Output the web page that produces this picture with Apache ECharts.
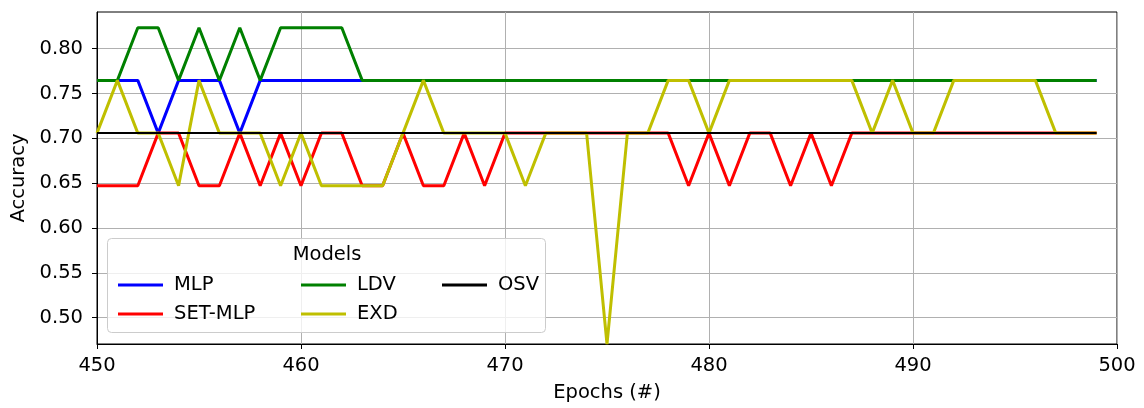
<!DOCTYPE html>
<html>
<head>
<meta charset="utf-8">
<script src="https://cdn.jsdelivr.net/npm/echarts@6/dist/echarts.min.js"></script>
<style>
  html, body { margin: 0; padding: 0; background: #fff; }
  #accChart { width: 1144px; height: 408px; }
</style>
</head>
<body>
<div id="accChart"></div>
<script>
// epochs 450..499
const epochs = [450, 451, 452, 453, 454, 455, 456, 457, 458, 459,
  460, 461, 462, 463, 464, 465, 466, 467, 468, 469,
  470, 471, 472, 473, 474, 475, 476, 477, 478, 479,
  480, 481, 482, 483, 484, 485, 486, 487, 488, 489,
  490, 491, 492, 493, 494, 495, 496, 497, 498, 499]

const mlp = [0.7647, 0.7647, 0.7647, 0.7059, 0.7647, 0.7647, 0.7647, 0.7059, 0.7647, 0.7647,
  0.7647, 0.7647, 0.7647, 0.7647, 0.7647, 0.7647, 0.7647, 0.7647, 0.7647, 0.7647,
  0.7647, 0.7647, 0.7647, 0.7647, 0.7647, 0.7647, 0.7647, 0.7647, 0.7647, 0.7647,
  0.7647, 0.7647, 0.7647, 0.7647, 0.7647, 0.7647, 0.7647, 0.7647, 0.7647, 0.7647,
  0.7647, 0.7647, 0.7647, 0.7647, 0.7647, 0.7647, 0.7647, 0.7647, 0.7647, 0.7647]

const setMlp = [0.6471, 0.6471, 0.6471, 0.7059, 0.7059, 0.6471, 0.6471, 0.7059, 0.6471, 0.7059,
  0.6471, 0.7059, 0.7059, 0.6471, 0.6471, 0.7059, 0.6471, 0.6471, 0.7059, 0.6471,
  0.7059, 0.7059, 0.7059, 0.7059, 0.7059, 0.7059, 0.7059, 0.7059, 0.7059, 0.6471,
  0.7059, 0.6471, 0.7059, 0.7059, 0.6471, 0.7059, 0.6471, 0.7059, 0.7059, 0.7059,
  0.7059, 0.7059, 0.7059, 0.7059, 0.7059, 0.7059, 0.7059, 0.7059, 0.7059, 0.7059]

const ldv = [0.7647, 0.7647, 0.8235, 0.8235, 0.7647, 0.8235, 0.7647, 0.8235, 0.7647, 0.8235,
  0.8235, 0.8235, 0.8235, 0.7647, 0.7647, 0.7647, 0.7647, 0.7647, 0.7647, 0.7647,
  0.7647, 0.7647, 0.7647, 0.7647, 0.7647, 0.7647, 0.7647, 0.7647, 0.7647, 0.7647,
  0.7647, 0.7647, 0.7647, 0.7647, 0.7647, 0.7647, 0.7647, 0.7647, 0.7647, 0.7647,
  0.7647, 0.7647, 0.7647, 0.7647, 0.7647, 0.7647, 0.7647, 0.7647, 0.7647, 0.7647]

const exd = [0.7059, 0.7647, 0.7059, 0.7059, 0.6471, 0.7647, 0.7059, 0.7059, 0.7059, 0.6471,
  0.7059, 0.6471, 0.6471, 0.6471, 0.6471, 0.7059, 0.7647, 0.7059, 0.7059, 0.7059,
  0.7059, 0.6471, 0.7059, 0.7059, 0.7059, 0.4706, 0.7059, 0.7059, 0.7647, 0.7647,
  0.7059, 0.7647, 0.7647, 0.7647, 0.7647, 0.7647, 0.7647, 0.7647, 0.7059, 0.7647,
  0.7059, 0.7059, 0.7647, 0.7647, 0.7647, 0.7647, 0.7647, 0.7059, 0.7059, 0.7059]

const osv = [0.7059, 0.7059, 0.7059, 0.7059, 0.7059, 0.7059, 0.7059, 0.7059, 0.7059, 0.7059,
  0.7059, 0.7059, 0.7059, 0.7059, 0.7059, 0.7059, 0.7059, 0.7059, 0.7059, 0.7059,
  0.7059, 0.7059, 0.7059, 0.7059, 0.7059, 0.7059, 0.7059, 0.7059, 0.7059, 0.7059,
  0.7059, 0.7059, 0.7059, 0.7059, 0.7059, 0.7059, 0.7059, 0.7059, 0.7059, 0.7059,
  0.7059, 0.7059, 0.7059, 0.7059, 0.7059, 0.7059, 0.7059, 0.7059, 0.7059, 0.7059]

const yTicks = [0.5, 0.55, 0.6, 0.65, 0.7, 0.75, 0.8]

const FONT = 'DejaVu Sans'
const FS = 19.5
const pair = arr => arr.map((v, i) => [epochs[i], v])

function lineSeries(name, data, color, width) {
  return {
    name: name,
    type: 'line',
    data: pair(data),
    showSymbol: false,
    symbol: 'none',
    clip: true,
    color: color,
    lineStyle: { color: color, width: width },
    emphasis: { disabled: true }
  }
}

const legendText = { fontFamily: FONT, fontSize: FS, color: '#000', padding: [0, 0, 0, 6] }
function legendCol(left, names) {
  return {
    orient: 'vertical',
    left: left,
    top: 270,
    itemWidth: 45,
    itemHeight: 20,
    itemGap: 9,
    icon: 'path://M0,8.5 L45,8.5 L45,11.5 L0,11.5 Z',
    textStyle: legendText,
    data: names,
    selectedMode: false,
    z: 10
  }
}

const chart = echarts.init(document.getElementById('accChart'))
const option = {
  animation: false,
  backgroundColor: '#fff',
  grid: { left: 97, right: 27, top: 12, bottom: 64, show: true, borderColor: '#000', borderWidth: 1 },
  xAxis: {
    type: 'value',
    min: 450,
    max: 500,
    interval: 10,
    name: 'Epochs (#)',
    nameLocation: 'middle',
    nameGap: 39,
    nameTextStyle: { fontFamily: FONT, fontSize: FS, color: '#000' },
    axisLine: { lineStyle: { color: '#000', width: 1 } },
    axisTick: { inside: false, length: 5, lineStyle: { color: '#000' } },
    axisLabel: { fontFamily: FONT, fontSize: FS, color: '#000', margin: 12 },
    splitLine: { show: true, lineStyle: { color: '#b0b0b0', width: 1 } }
  },
  yAxis: {
    type: 'value',
    min: 0.4706,
    max: 0.841,
    splitNumber: 7,
    name: 'Accuracy',
    nameLocation: 'middle',
    nameGap: 68,
    nameTextStyle: { fontFamily: FONT, fontSize: FS, color: '#000' },
    axisLine: { show: true, lineStyle: { color: '#000', width: 1 } },
    axisTick: { length: 5, customValues: yTicks, lineStyle: { color: '#000' } },
    axisLabel: {
      fontFamily: FONT, fontSize: FS, color: '#000', margin: 14,
      customValues: yTicks,
      formatter: v => v.toFixed(2)
    },
    splitLine: { show: true, lineStyle: { color: '#b0b0b0', width: 1 } }
  },
  legend: [
    legendCol(113, ['MLP', 'SET-MLP']),
    legendCol(296, ['LDV', 'EXD']),
    legendCol(437, ['OSV'])
  ],
  graphic: [
    {
      type: 'rect',
      z: 9,
      shape: { x: 107.5, y: 238.5, width: 438, height: 94, r: 4 },
      style: { fill: 'rgba(255,255,255,0.8)', stroke: '#cccccc', lineWidth: 1 }
    },
    {
      type: 'text',
      z: 10,
      x: 327,
      y: 255,
      style: { text: 'Models', font: FS + 'px "DejaVu Sans"', fill: '#000', align: 'center', verticalAlign: 'middle' }
    }
  ],
  series: [
    lineSeries('MLP', mlp, '#0000ff', 3),
    lineSeries('SET-MLP', setMlp, '#ff0000', 3),
    lineSeries('LDV', ldv, '#008000', 3),
    lineSeries('EXD', exd, '#bfbf00', 3),
    lineSeries('OSV', osv, '#000000', 2)
  ]
}
chart.setOption(option)
</script>
</body>
</html>
